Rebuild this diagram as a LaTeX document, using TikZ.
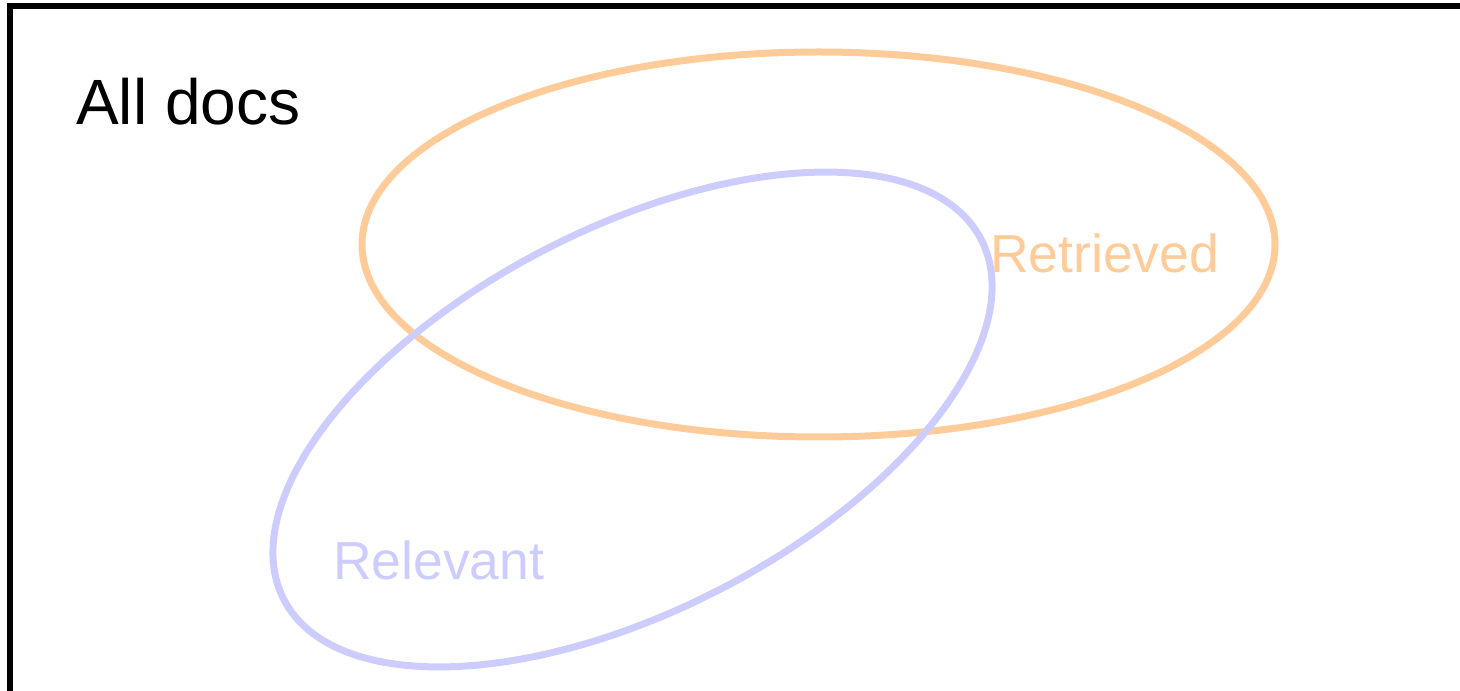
\documentclass[tikz,border=0pt]{standalone}
\usepackage{fontspec}
\setmainfont{Liberation Sans}
\usepackage{tikz}
\usetikzlibrary{positioning}
\definecolor{RetrievedOrange}{HTML}{FFCC99}
\definecolor{RelevantBlue}{HTML}{CCCCFF}
\tikzset{
  setlabel/.style={anchor=base west, inner sep=0pt, font=\fontsize{53.5}{53.5}\selectfont}
}
\begin{document}
\begin{tikzpicture}[x=1pt, y=1pt]
      \useasboundingbox (0,0) rectangle (1460,691);
      \clip (0,0) rectangle (1460,691);
      % Universe of documents
      \draw[black, line width=6pt] (10,-20) -- (10,685) -- (1470,685);
      \node[setlabel, font=\fontsize{64}{64}\selectfont] (alldocs) at (76,566) {All docs};
      % Retrieved set
      \draw[RetrievedOrange, line width=7pt] (818.5,446.5) ellipse (456.5pt and 192.5pt);
      \node[setlabel, text=RetrievedOrange] (retrieved) at (990,418) {Retrieved};
      % Relevant set
      \draw[RelevantBlue, line width=7pt, rotate around={27.3:(632.5,271.5)}] (632.5,271.5) ellipse (392.4pt and 191.1pt);
      \node[setlabel, text=RelevantBlue] (relevant) at (333,111) {Relevant};
    \end{tikzpicture}
\end{document}
